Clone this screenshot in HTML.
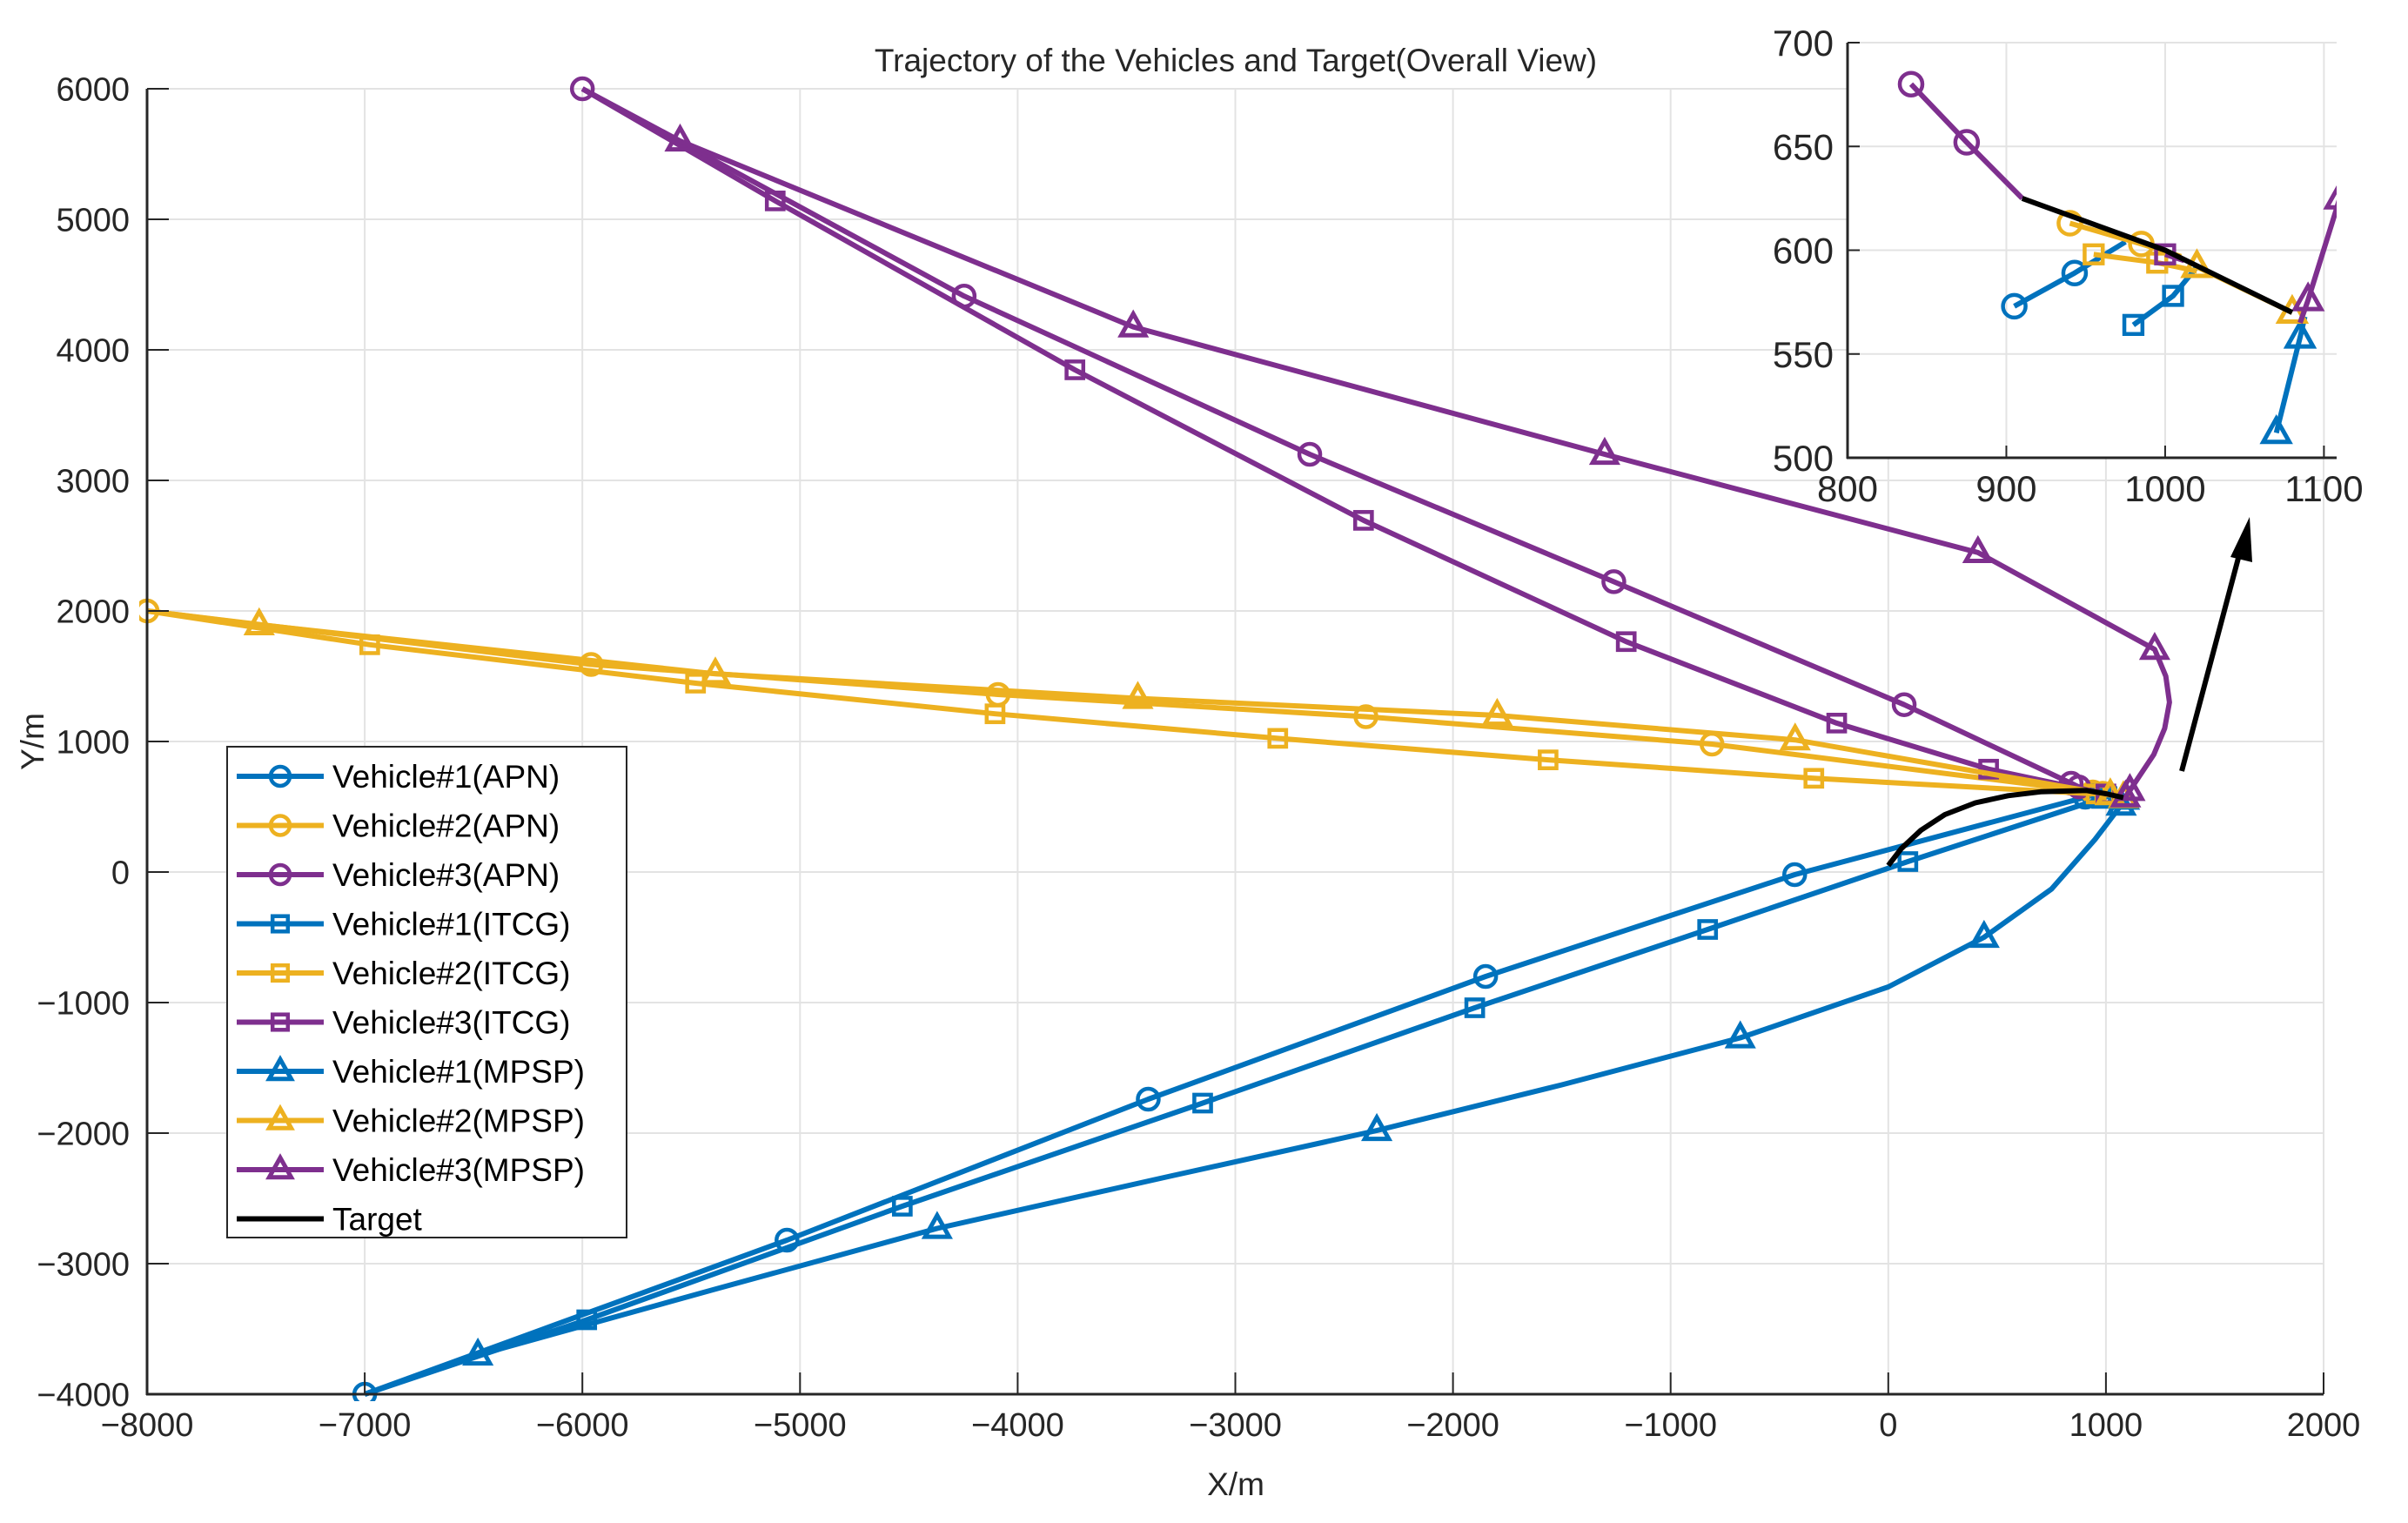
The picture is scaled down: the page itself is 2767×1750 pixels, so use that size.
<!DOCTYPE html>
<html><head><meta charset="utf-8"><style>
html,body{margin:0;padding:0;background:#fff;overflow:hidden}
svg{display:block;font-family:"Liberation Sans",sans-serif}
</style></head><body>
<svg id="chart" width="2767" height="1750" viewBox="0 0 2767 1750" xmlns="http://www.w3.org/2000/svg">
<defs>
<clipPath id="mainClip"><rect x="160" y="80" width="2520" height="1530"/></clipPath>
<clipPath id="insetClip"><rect x="2123" y="49" width="562" height="478"/></clipPath>
</defs>
<g id="main"></g>
<g id="inset"></g>
<g id="legend"></g>
</svg>
<script>
// ---- data ----
const xTicks = [-8000,-7000,-6000,-5000,-4000,-3000,-2000,-1000,0,1000,2000];
const yTicks = [-4000,-3000,-2000,-1000,0,1000,2000,3000,4000,5000,6000];
const insetXTicks = [800,900,1000,1100];
const insetYTicks = [500,550,600,650,700];
const seriesNames = ["Vehicle#1(APN)","Vehicle#2(APN)","Vehicle#3(APN)","Vehicle#1(ITCG)","Vehicle#2(ITCG)","Vehicle#3(ITCG)","Vehicle#1(MPSP)","Vehicle#2(MPSP)","Vehicle#3(MPSP)","Target"];
const v1apnX = [-7000,-5060,-3400,-1850,-430,905,943,975];
const v1apnY = [-4000,-2820,-1740,-800,-20,573,589,604];
const v2apnX = [-8000,-5960,-4090,-2400,-810,940,985,1010];
const v2apnY = [2000,1590,1360,1190,980,613,603,597];
const v3apnX = [-6000,-4246,-2658,-1261,73,840,875,910];
const v3apnY = [6000,4412,3200,2224,1282,680,652,625];
const v1itcgX = [-7000,-5980,-4530,-3150,-1900,-830,90,980,1005,1020];
const v1itcgY = [-4000,-3430,-2560,-1770,-1040,-440,80,564,578,592];
const v2itcgX = [-8000,-6977,-5480,-4104,-2805,-1563,-342,955,995,1020];
const v2itcgY = [2000,1741,1447,1212,1024,859,718,598,594,590];
const v3itcgX = [-6000,-5114,-3737,-2411,-1204,-237,461,1000,1012];
const v3itcgY = [6000,5141,3847,2694,1765,1141,788,598,595];
const v1mpspX = [-7000,-6480,-5400,-4370,-3300,-2350,-1500,-680,0,440,750,950,1070,1085,1088];
const v1mpspY = [-4000,-3700,-3200,-2730,-2330,-1980,-1630,-1270,-880,-500,-130,250,512,558,568];
const v2mpspX = [-8000,-7485,-5389,-3448,-1797,-428,1020,1080];
const v2mpspY = [2000,1894,1518,1330,1200,1012,592,570];
const v3mpspX = [-6000,-5551,-3469,-1303,412,1224,1275,1292,1270,1220,1160,1110,1090,1085];
const v3mpspY = [6000,5600,4176,3200,2447,1706,1500,1300,1100,900,750,625,576,565];
const targetX = [0,60,150,260,400,550,700,910,1000,1080];
const targetY = [50,180,320,440,530,585,615,625,600,570];
// marker indices per series
const v1apnM=[0,1,2,3,4,5,6], v2apnM=[0,1,2,3,4,5,6], v3apnM=[0,1,2,3,4,5,6];
const v1itcgM=[1,2,3,4,5,6,7,8], v2itcgM=[1,2,3,4,5,6,7,8], v3itcgM=[1,2,3,4,5,6,7];
const v1mpspM=[1,3,5,7,9,12,13], v2mpspM=[1,2,3,4,5,6,7], v3mpspM=[1,2,3,4,5,11,12];
// first index shown in the zoomed inset
const insetStart=[5,5,5,7,7,7,12,6,11,7];

const BLUE="#0072BD", YEL="#EDB120", PUR="#7E2F8E";
const series = [
 {n:"vehicle1-apn",x:v1apnX,y:v1apnY,m:v1apnM,c:BLUE,mk:"o"},
 {n:"vehicle2-apn",x:v2apnX,y:v2apnY,m:v2apnM,c:YEL,mk:"o"},
 {n:"vehicle3-apn",x:v3apnX,y:v3apnY,m:v3apnM,c:PUR,mk:"o"},
 {n:"vehicle1-itcg",x:v1itcgX,y:v1itcgY,m:v1itcgM,c:BLUE,mk:"s"},
 {n:"vehicle2-itcg",x:v2itcgX,y:v2itcgY,m:v2itcgM,c:YEL,mk:"s"},
 {n:"vehicle3-itcg",x:v3itcgX,y:v3itcgY,m:v3itcgM,c:PUR,mk:"s"},
 {n:"vehicle1-mpsp",x:v1mpspX,y:v1mpspY,m:v1mpspM,c:BLUE,mk:"t"},
 {n:"vehicle2-mpsp",x:v2mpspX,y:v2mpspY,m:v2mpspM,c:YEL,mk:"t"},
 {n:"vehicle3-mpsp",x:v3mpspX,y:v3mpspY,m:v3mpspM,c:PUR,mk:"t"},
 {n:"target",x:targetX,y:targetY,m:[],c:"#000",mk:""}
];
const NS="http://www.w3.org/2000/svg";
function el(tag,attrs,parent){const e=document.createElementNS(NS,tag);for(const k in attrs)e.setAttribute(k,attrs[k]);parent.appendChild(e);return e;}

function marker(g,type,px,py,c,s){
  let e;
  if(type==="o") e=el("circle",{cx:px,cy:py,r:s,fill:"none",stroke:c,"stroke-width":4.5},g);
  else if(type==="s") e=el("rect",{x:px-s*0.8,y:py-s*0.8,width:s*1.6,height:s*1.6,fill:"none",stroke:c,"stroke-width":4.5},g);
  else e=el("polygon",{points:`${px},${py-s*1.25} ${px-s*1.15},${py+s*0.8} ${px+s*1.15},${py+s*0.8}`,fill:"none",stroke:c,"stroke-width":5,"stroke-linejoin":"miter"},g);
  
  
}

function drawAxes(g,o){
  const sx=v=>o.l+(v-o.x0)/(o.x1-o.x0)*(o.r-o.l);
  const sy=v=>o.b-(v-o.y0)/(o.y1-o.y0)*(o.b-o.t);
  if(o.bg) el("rect",{x:o.l,y:o.t,width:o.r-o.l,height:o.b-o.t,fill:"#fff"},g);
  o.xt.forEach(v=>{const l=el("line",{x1:sx(v),x2:sx(v),y1:o.t,y2:o.b,stroke:"#e3e3e3","stroke-width":2},g);
    });
  o.yt.forEach(v=>{const l=el("line",{x1:o.l,x2:o.r,y1:sy(v),y2:sy(v),stroke:"#e3e3e3","stroke-width":2},g);
    });
  const data=el("g",{"clip-path":`url(#${o.clip})`},g);
  series.forEach((s,si)=>{
    const st=o.inset?insetStart[si]:0;
    const sg=el("g",{},data);
    
    
    let d="";
    for(let i=st;i<s.x.length;i++) d+=(i===st?"M":"L")+sx(s.x[i]).toFixed(1)+","+sy(s.y[i]).toFixed(1);
    const p=el("path",{d:d,fill:"none",stroke:s.c,"stroke-width":o.lw,"stroke-linejoin":"round"},sg);
    
    
    s.m.forEach(i=>{ if(i>=st) marker(sg,s.mk,sx(s.x[i]),sy(s.y[i]),s.c,o.ms); });
  });
  el("line",{x1:o.l,x2:o.l,y1:o.t,y2:o.b+1,stroke:"#262626","stroke-width":3},g);
  el("line",{x1:o.l-1,x2:o.r,y1:o.b,y2:o.b,stroke:"#262626","stroke-width":3},g);
  o.xt.forEach(v=>{el("line",{x1:sx(v),x2:sx(v),y1:o.b,y2:o.b-o.tk,stroke:"#262626","stroke-width":2},g);
    const t=el("text",{x:sx(v),y:o.b+o.xlo,"text-anchor":"middle","font-size":o.fs,fill:"#262626"},g);t.textContent=String(v).replace("-","\u2212");
    });
  o.yt.forEach(v=>{el("line",{x1:o.l,x2:o.l+o.tk,y1:sy(v),y2:sy(v),stroke:"#262626","stroke-width":2},g);
    const t=el("text",{x:o.l-o.ylo,y:sy(v)+o.fs*0.36,"text-anchor":"end","font-size":o.fs,fill:"#262626"},g);t.textContent=String(v).replace("-","\u2212");
    });
}

const main=document.getElementById("main");
drawAxes(main,{l:169,r:2670,t:102,b:1602,x0:-8000,x1:2000,y0:-4000,y1:6000,xt:xTicks,yt:yTicks,clip:"mainClip",lw:6,ms:12,fs:38,xlo:48,ylo:20,tk:25});

let t=el("text",{x:1420,y:82,"text-anchor":"middle","font-size":37,fill:"#262626"},main);t.textContent="Trajectory of the Vehicles and Target(Overall View)";

t=el("text",{x:1420,y:1718,"text-anchor":"middle","font-size":37,fill:"#262626"},main);t.textContent="X/m";

t=el("text",{x:50,y:852,"text-anchor":"middle","font-size":37,fill:"#262626",transform:"rotate(-90 50 852)"},main);t.textContent="Y/m";


const ar=el("g",{},main);

el("line",{x1:2507,y1:886,x2:2575,y2:630,stroke:"#000","stroke-width":6},ar);
el("polygon",{points:"2585,594 2563,640 2588,646",fill:"#000"},ar);

const inset=document.getElementById("inset");
drawAxes(inset,{l:2123,r:2685,t:49,b:526,x0:800,x1:1108,y0:500,y1:700,xt:insetXTicks,yt:insetYTicks,clip:"insetClip",lw:6,ms:13,fs:42,xlo:50,ylo:16,tk:14,bg:true,inset:true});

const lg=document.getElementById("legend");
el("rect",{x:261,y:858,width:459,height:564,fill:"#fff",stroke:"#262626","stroke-width":2},lg);
seriesNames.forEach((nm,i)=>{
  const s=series[i];const y=892+i*56.5;
  const e=el("g",{},lg);
  
  
  el("line",{x1:272,x2:372,y1:y,y2:y,stroke:s.c,"stroke-width":6},e);
  if(s.mk) marker(e,s.mk,322,y,s.c,11);
  const tx=el("text",{x:382,y:y+13,"font-size":37,fill:"#000"},e);tx.textContent=nm;
});
</script>
</body></html>
